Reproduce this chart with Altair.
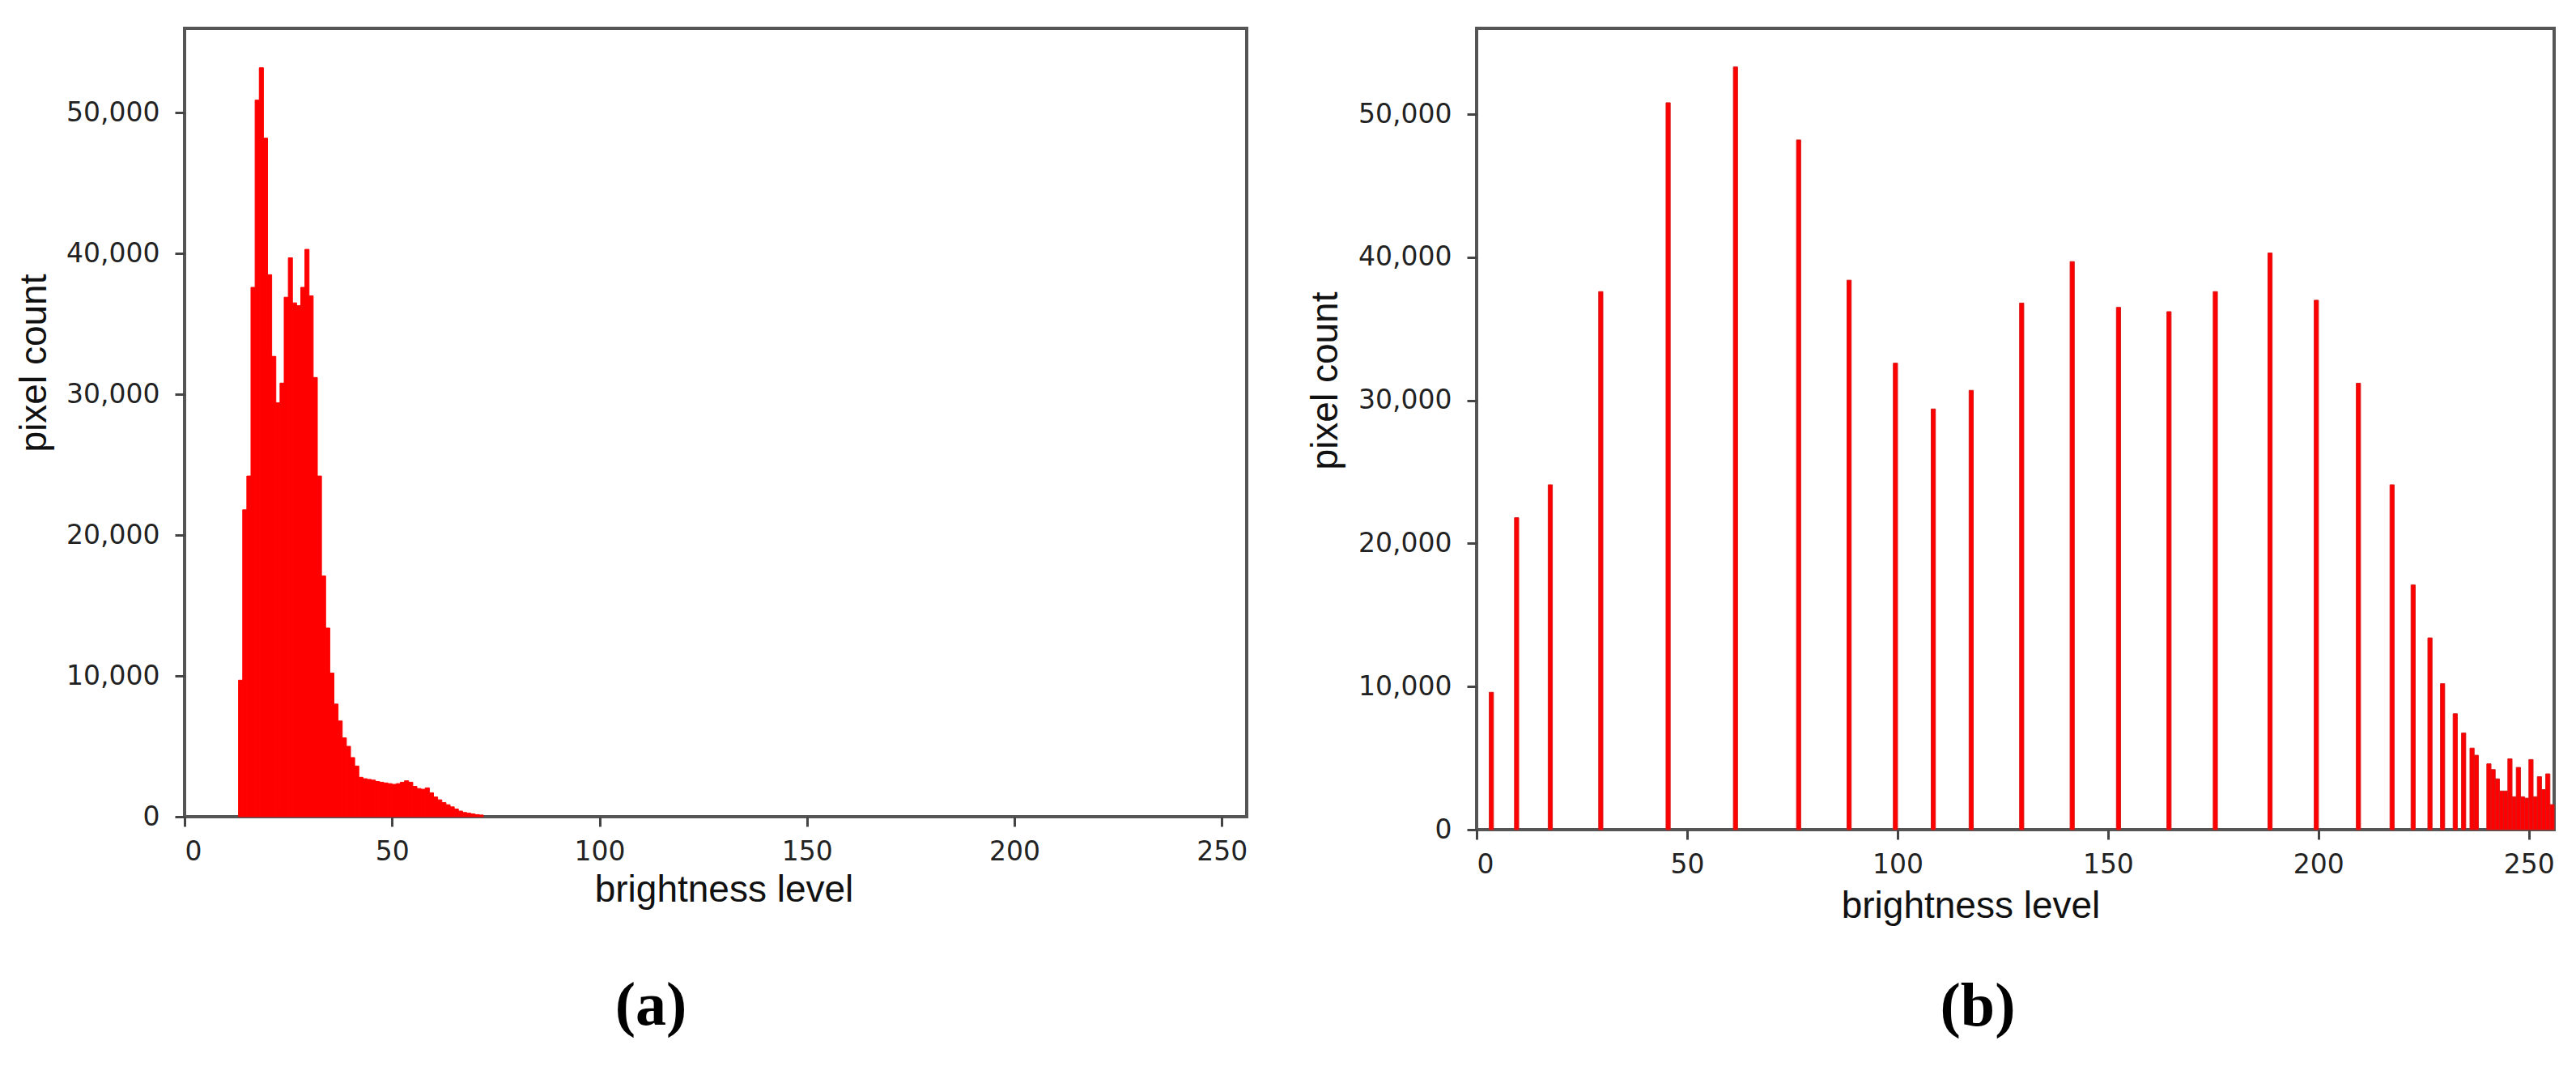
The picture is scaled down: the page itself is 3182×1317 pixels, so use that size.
import altair as alt
import pandas as pd

# ---------------- data ----------------
left_levels = list(range(13, 72))
left_counts = [
    9700, 21800, 24200, 37600, 50900, 53200, 48200, 38500, 32700, 29400,
    30800, 36900, 39700, 36500, 36300, 37600, 40300, 37000, 31200, 24200,
    17100, 13400, 10200, 8000, 6800, 5600, 5000, 4200, 3600, 2800,
    2700, 2650, 2600, 2500, 2450, 2400, 2350, 2300, 2350, 2450,
    2550, 2450, 2150, 2000, 1950, 2050, 1700, 1400, 1200, 1000,
    850, 700, 550, 400, 300, 250, 200, 150, 120,
]

right_levels = [
    3, 9, 17, 29, 45, 61, 76, 88, 99, 108, 117, 129, 141, 152, 164, 175,
    188, 199, 209, 217, 222, 226, 229, 232, 234, 236, 237,
    240, 241, 242, 243, 244, 245, 246, 247, 248, 249, 250, 251, 252, 253, 254, 255,
]
right_counts = [
    9600, 21800, 24100, 37600, 50800, 53300, 48200, 38400, 32600, 29400,
    30700, 36800, 39700, 36500, 36200, 37600, 40300, 37000, 31200, 24100,
    17100, 13400, 10200, 8100, 6750, 5700, 5200,
    4600, 4200, 3550, 2700, 2700, 4950, 2300, 4350, 2300, 2200, 4900, 2300,
    3700, 2800, 3900, 1750,
]

panel_labels = ["(a)", "(b)"]
x_ticks = [0, 50, 100, 150, 200, 250]
y_ticks = [0, 10000, 20000, 30000, 40000, 50000]
x_domain = [0, 256]
y_domain = [0, 56000]

df_a = pd.DataFrame({"level": left_levels, "pixels": left_counts})
df_b = pd.DataFrame({"level": right_levels, "pixels": right_counts})


def panel(df, w, h, label, xt_x, xt_y, yt_x, yt_y, lab_x, lab_y, stroke_col):
    bars = (
        alt.Chart(df)
        .transform_calculate(level_end="datum.level + 1")
        .mark_rect(color="#ff0000", stroke=stroke_col, strokeWidth=1)
        .encode(
            x=alt.X(
                "level:Q",
                scale=alt.Scale(domain=x_domain, nice=False, zero=False),
                axis=alt.Axis(
                    values=x_ticks,
                    format="d",
                    labelPadding=15,
                    title="brightness level",
                    titleX=xt_x,
                    titleY=xt_y,
                    titleAlign="center",
                    titleBaseline="alphabetic",
                ),
            ),
            x2="level_end:Q",
            y=alt.Y(
                "pixels:Q",
                scale=alt.Scale(domain=y_domain, nice=False),
                axis=alt.Axis(
                    values=y_ticks,
                    format=",d",
                    labelPadding=19,
                    title="pixel count",
                    titleX=yt_x,
                    titleY=yt_y,
                    titleAngle=-90,
                    titleAlign="center",
                    titleBaseline="bottom",
                ),
            ),
            y2=alt.datum(0),
        )
    )
    tag = (
        alt.Chart(pd.DataFrame({"tag": [label]}))
        .mark_text(
            font="Liberation Serif",
            fontSize=76,
            fontWeight="bold",
            color="#000000",
            align="center",
            baseline="middle",
        )
        .encode(text="tag:N", x=alt.value(lab_x), y=alt.value(lab_y))
    )
    return alt.layer(bars, tag).properties(width=w, height=h)


chart_a = panel(df_a, 1312, 974, panel_labels[0], 666, 104, -162, 413, 576, 1208, "#ff0000")
chart_b = panel(df_b, 1331, 990, panel_labels[1], 610, 108, -163, 435, 619, 1209, "#d81818")

chart = (
    alt.hconcat(chart_a, chart_b, spacing=69)
    .properties(
        padding={"left": 9, "top": 25, "right": 5, "bottom": 5},
        background="white",
    )
    .configure_view(stroke="#555555", strokeWidth=4)
    .configure_axis(
        grid=False,
        domain=False,
        labelFont="DejaVu Sans",
        labelFontSize=33,
        labelColor="#222222",
        tickColor="#444444",
        tickWidth=3,
        tickSize=12,
        titleFont="Liberation Sans",
        titleFontSize=46,
        titleFontWeight="normal",
        titleColor="#111111",
    )
)

chart.save("out.html", embed_options={"renderer": "svg", "actions": False})
